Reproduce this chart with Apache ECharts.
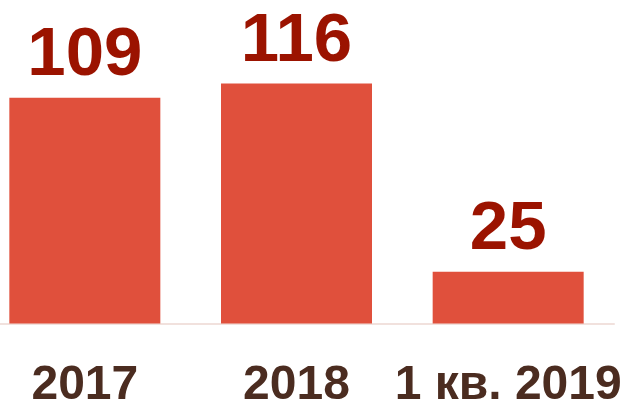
<!DOCTYPE html>
<html>
<head>
<meta charset="utf-8">
<script src="https://cdn.jsdelivr.net/npm/echarts@6/dist/echarts.min.js"></script>
<style>
  html, body { margin: 0; padding: 0; background: #ffffff; }
  #chart { width: 623px; height: 399px; }
</style>
</head>
<body>
<div id="chart"></div>
<script>
// Periods and their counts
const categories = ['2017', '2018', '1 кв. 2019'];
const values = [109, 116, 25];

const chart = echarts.init(document.getElementById('chart'), null, { renderer: 'canvas' });

chart.setOption({
  animation: false,
  backgroundColor: '#ffffff',
  textStyle: { fontFamily: 'Liberation Sans, Arial, sans-serif' },
  grid: {
    left: -21, right: 9, top: 13, bottom: 75.5,
    containLabel: false,
    outerBoundsMode: 'none'
  },
  xAxis: {
    type: 'category',
    data: categories,
    axisTick: { show: false },
    axisLine: { show: true, lineStyle: { color: '#F1E1DD', width: 2 } },
    axisLabel: {
      color: '#4B2C20',
      fontSize: 48,
      fontWeight: 'bold',
      fontFamily: 'Liberation Sans, Arial, sans-serif',
      margin: 38,
      interval: 0
    }
  },
  yAxis: {
    type: 'value',
    min: 0,
    max: 150,
    show: false,
    splitLine: { show: false }
  },
  series: [{
    type: 'bar',
    data: values,
    barWidth: 151,
    itemStyle: { color: '#E0503C' },
    label: {
      show: true,
      position: 'top',
      distance: 7,
      color: '#9B1300',
      fontSize: 69,
      fontWeight: 'bold',
      fontFamily: 'Liberation Sans, Arial, sans-serif'
    }
  }]
});
</script>
</body>
</html>
